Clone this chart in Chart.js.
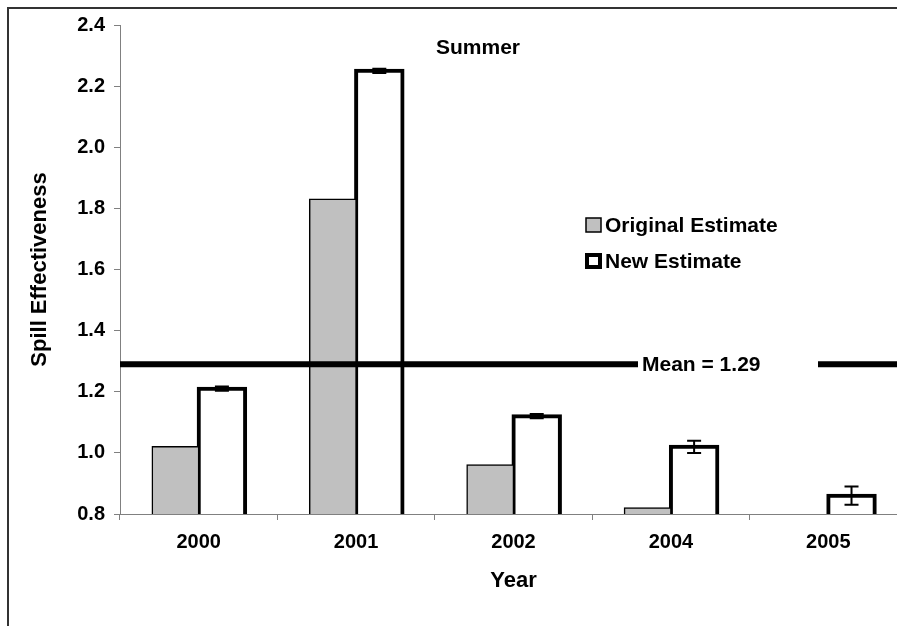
<!DOCTYPE html>
<html>
<head>
<meta charset="utf-8">
<script src="https://cdn.jsdelivr.net/npm/chart.js@4.4.1/dist/chart.umd.min.js"></script>
<style>
  html, body { margin: 0; padding: 0; background: #fff; overflow: hidden; }
  canvas { display: block; }
</style>
</head>
<body>
<canvas id="myChart" width="910" height="626"></canvas>
<script>
let years = ['2000', '2001', '2002', '2004', '2005'];
let originalEstimate = [1.02, 1.83, 0.96, 0.82, null];
let newEstimate = [1.21, 2.25, 1.12, 1.02, 0.86];
let newError = [0.007, 0.007, 0.007, 0.02, 0.03];
let meanValue = 1.29;
let yTicks = [0.8, 1.0, 1.2, 1.4, 1.6, 1.8, 2.0, 2.2, 2.4];

let fontFamily = '"Liberation Sans", Arial, sans-serif';

// frame, title, legend, mean line and error bars
let extras = {
    id: 'extras',
    beforeDraw(chart) {
        let ctx = chart.ctx;
        ctx.save();
        ctx.strokeStyle = '#333';
        ctx.lineWidth = 2;
        ctx.strokeRect(8, 8, 1200, 1200);
        ctx.restore();
    },
    afterDatasetsDraw(chart) {
        let ctx = chart.ctx;
        let y = chart.scales.y;
        let area = chart.chartArea;
        ctx.save();

        // error bars on the new estimate
        let meta = chart.getDatasetMeta(1);
        ctx.strokeStyle = '#000';
        ctx.lineWidth = 2;
        meta.data.forEach((bar, i) => {
            let v = newEstimate[i], e = newError[i];
            if (v == null || !e) return;
            let cx = bar.x;
            let yHi = y.getPixelForValue(v + e);
            let yLo = y.getPixelForValue(v - e);
            ctx.beginPath();
            ctx.moveTo(cx, yHi); ctx.lineTo(cx, yLo);
            ctx.moveTo(cx - 7, yHi); ctx.lineTo(cx + 7, yHi);
            ctx.moveTo(cx - 7, yLo); ctx.lineTo(cx + 7, yLo);
            ctx.stroke();
        });

        // mean line with its label
        let my = y.getPixelForValue(meanValue);
        ctx.lineWidth = 6;
        ctx.beginPath();
        ctx.moveTo(area.left, my); ctx.lineTo(638, my);
        ctx.moveTo(818, my); ctx.lineTo(area.right, my);
        ctx.stroke();
        ctx.fillStyle = '#000';
        ctx.font = 'bold 21px ' + fontFamily;
        ctx.textBaseline = 'middle';
        ctx.textAlign = 'left';
        ctx.fillText('Mean = ' + meanValue.toFixed(2), 642, my + 1);

        // title inside the plot
        ctx.textAlign = 'center';
        ctx.fillText('Summer', 478, 48);

        // legend
        ctx.textAlign = 'left';
        chart.data.datasets.forEach((ds, i) => {
            let ly = 225 + i * 36;
            if (i === 0) {
                ctx.fillStyle = ds.backgroundColor;
                ctx.fillRect(586, ly - 7, 15, 14);
                ctx.lineWidth = 1.5;
                ctx.strokeStyle = '#000';
                ctx.strokeRect(586, ly - 7, 15, 14);
            } else {
                ctx.fillStyle = '#fff';
                ctx.fillRect(586, ly - 7, 15, 14);
                ctx.lineWidth = 4;
                ctx.strokeStyle = '#000';
                ctx.strokeRect(587, ly - 6, 13, 12);
            }
            ctx.fillStyle = '#000';
            ctx.fillText(ds.label, 605, ly + 1);
        });
        ctx.restore();
    }
};

let myChart = document.getElementById('myChart').getContext('2d');
let chart = new Chart(myChart, {
    type: 'bar',
    data: {
        labels: years,
        datasets: [{
            label: 'Original Estimate',
            data: originalEstimate,
            backgroundColor: '#c0c0c0',
            borderColor: '#000',
            borderWidth: 1.5,
            borderSkipped: false,
            inflateAmount: 0.75
        }, {
            label: 'New Estimate',
            data: newEstimate,
            backgroundColor: '#fff',
            borderColor: '#000',
            borderWidth: 4,
            borderSkipped: false,
            inflateAmount: 2
        }]
    },
    options: {
        responsive: false,
        animation: false,
        layout: { padding: { top: 25, right: 3, left: 0, bottom: 0 } },
        datasets: { bar: { categoryPercentage: 0.59, barPercentage: 1.0 } },
        plugins: {
            legend: { display: false },
            title: { display: false },
            tooltip: { enabled: false }
        },
        scales: {
            x: {
                grid: { drawOnChartArea: false, tickLength: 6, color: '#808080' },
                border: { color: '#808080', width: 1 },
                ticks: { color: '#000', padding: 10, font: { family: fontFamily, size: 20, weight: 'bold' } },
                title: {
                    display: true, text: 'Year', color: '#000',
                    padding: { top: 0, bottom: 32 },
                    font: { family: fontFamily, size: 22, weight: 'bold' }
                },
                afterFit(s) { s.height = 112; }
            },
            y: {
                min: 0.8,
                max: 2.4,
                afterBuildTicks(s) { s.ticks = yTicks.map(v => ({ value: v })); },
                grid: { drawOnChartArea: false, tickLength: 6, color: '#808080' },
                border: { color: '#808080', width: 1 },
                ticks: {
                    color: '#000', padding: 9,
                    font: { family: fontFamily, size: 20, weight: 'bold' },
                    callback: v => v.toFixed(1)
                },
                title: {
                    display: true, text: 'Spill Effectiveness', color: '#000',
                    padding: { top: 27, bottom: 0 },
                    font: { family: fontFamily, size: 22, weight: 'bold' }
                },
                afterFit(s) { s.width = 120; }
            }
        }
    },
    plugins: [extras]
});
</script>
</body>
</html>
